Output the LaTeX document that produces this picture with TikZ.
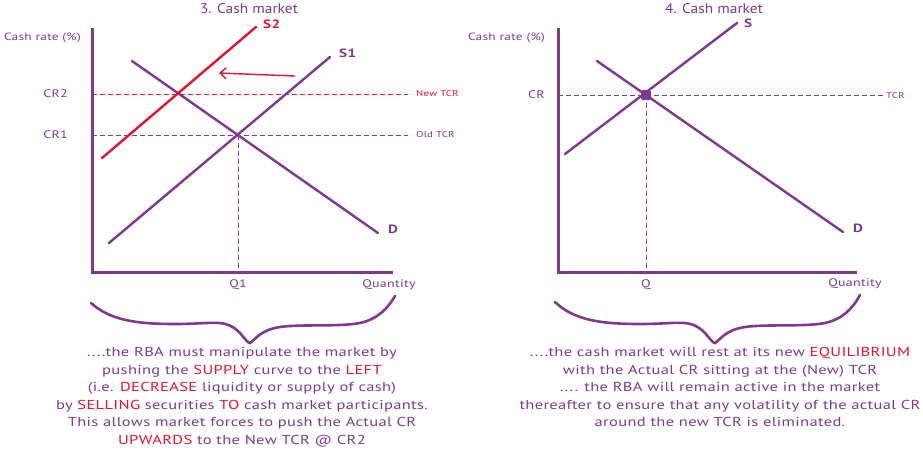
\documentclass[tikz,border=0pt]{standalone}
\usepackage{fontspec}
\setmainfont{PT Sans}[FakeStretch=1.27,LetterSpace=2.5]
\newfontfamily\ttlfont{PT Sans}[FakeStretch=1.1]
\usetikzlibrary{arrows.meta}
\definecolor{pur}{HTML}{7D3A8E}
\definecolor{rd}{HTML}{E6142C}
\newcommand{\R}[1]{\textcolor{rd}{#1}}
\tikzset{
  curve/.style={pur, line width=2.4pt, line cap=round},
  axis/.style={pur, line width=3pt},
  guide/.style={pur, line width=0.9pt, dash pattern=on 5pt off 3pt},
  lbl/.style={pur, font=\fontsize{11}{13}\selectfont, inner sep=0pt},
  small/.style={pur, font=\fontsize{8.5}{10}\selectfont, inner sep=0pt, anchor=west},
  ttl/.style={pur, font=\ttlfont\fontsize{14}{16}\selectfont, inner sep=0pt},
  curvelbl/.style={pur, font=\bfseries\fontsize{12}{14}\selectfont, inner sep=0pt, anchor=west},
  para/.style={pur, font=\fontsize{13}{17.6}\selectfont, align=center, inner sep=0pt, anchor=north},
  brace/.style={pur, line width=2.6pt, line cap=round}
}
\begin{document}
\begin{tikzpicture}[x=1pt,y=-1pt]
\useasboundingbox (0,0) rectangle (923,455);
% ===== left chart =====
\node[ttl] (t1) at (249,9) {3. Cash market};
\coordinate (o1) at (92,272);
\coordinate (ytop1) at (92,28);
\coordinate (xend1) at (393,272);
\node[lbl, anchor=east, font=\fontsize{10.5}{12}\selectfont] (cr1lab) at (81,38) {Cash rate (\%)};
\node[lbl, anchor=east] (cr2) at (68,94) {CR2};
\node[lbl, anchor=east] (cr1) at (68,135) {CR1};
\coordinate (n1a) at (92,94);
\coordinate (n1b) at (408,94);
\coordinate (o1a) at (92,135);
\coordinate (o1b) at (408,135);
\draw[guide, rd] (n1a) -- (n1b);
\draw[guide] (o1a) -- (o1b);
\node[small, rd] (newtcr) at (416,94) {New TCR};
\node[small] (oldtcr) at (416,135) {Old TCR};
\coordinate (e1) at (238,135);
\coordinate (q1b) at (238,272);
\draw[guide] (e1) -- (q1b);
\node[lbl] (q1) at (238,285) {Q1};
\node[lbl] (qty1) at (389,285) {Quantity};
% D
\coordinate (d1a) at (132,61);
\coordinate (d1b) at (378,233);
\draw[curve] (d1a) -- (d1b);
\node[curvelbl] (dl1) at (388,229) {D};
% S1
\coordinate (s1a) at (109,243);
\coordinate (s1b) at (330,57);
\draw[curve] (s1a) -- (s1b);
\node[curvelbl] (s1l) at (339,53) {S1};
% S2
\coordinate (s2a) at (102,158);
\coordinate (s2b) at (256,27);
\draw[curve, rd] (s2a) -- (s2b);
\node[curvelbl, rd] (s2l) at (263,24) {S2};
% arrow
\coordinate (arA) at (295,76);
\coordinate (arB) at (219,73);
\draw[rd, line width=1.4pt, -{Straight Barb[length=6pt,width=11pt]}] (arA) -- (arB);
\draw[axis] (ytop1) -- (o1) -- (xend1);
% brace
\coordinate (b1s) at (91,303);
\coordinate (b1t) at (250,343);
\coordinate (b1e) at (395,296);
\draw[brace] (b1s) .. controls (110,320) and (135,324) .. (175,324)
  .. controls (215,324) and (225,318) .. (240,333)
  .. controls (245,339) and (248,343) .. (b1t)
  .. controls (255,340) and (260,330) .. (280,327)
  .. controls (300,324) and (340,327) .. (360,323)
  .. controls (378,319) and (388,308) .. (b1e);
\node[para] (p1) at (242,347) {....the RBA must manipulate the market by\\
pushing the \R{SUPPLY} curve to the \R{LEFT}\\
(i.e. \R{DECREASE} liquidity or supply of cash)\\
by \R{SELLING} securities \R{TO} cash market participants.\\
This allows market forces to push the Actual CR\\
\R{UPWARDS} to the New TCR @ CR2};
% ===== right chart =====
\node[ttl] (t2) at (714,9) {4. Cash market};
\coordinate (o2) at (558,272);
\coordinate (ytop2) at (558,28);
\coordinate (xend2) at (857,272);
\node[lbl, anchor=east, font=\fontsize{10.5}{12}\selectfont] (cr2lab) at (545,38) {Cash rate (\%)};
\node[lbl, anchor=east] (crl) at (545,95) {CR};
\coordinate (t2a) at (558,95);
\coordinate (t2b) at (883,95);
\draw[guide] (t2a) -- (t2b);
\node[small] (tcr) at (886,96) {TCR};
\coordinate (e2) at (646,95);
\coordinate (q2b) at (646,272);
\draw[guide] (e2) -- (q2b);
\node[lbl] (q2) at (646,285) {Q};
\node[lbl] (qty2) at (855,284) {Quantity};
\coordinate (d2a) at (597,61);
\coordinate (d2b) at (843,232);
\draw[curve] (d2a) -- (d2b);
\node[curvelbl] (dl2) at (853,228) {D};
\coordinate (s2ra) at (565,154);
\coordinate (s2rb) at (737,23);
\draw[curve] (s2ra) -- (s2rb);
\node[curvelbl] (sl2) at (744,23) {S};
\node[fill=pur, rounded corners=2pt, minimum size=10pt, inner sep=0pt] (eq) at (e2) {};
\draw[axis] (ytop2) -- (o2) -- (xend2);
\coordinate (b2s) at (555,302);
\coordinate (b2t) at (715,343);
\coordinate (b2e) at (860,295);
\draw[brace] (b2s) .. controls (574,320) and (600,324) .. (640,324)
  .. controls (680,324) and (690,318) .. (705,333)
  .. controls (710,339) and (713,343) .. (b2t)
  .. controls (720,340) and (725,330) .. (745,327)
  .. controls (765,324) and (805,327) .. (825,323)
  .. controls (843,319) and (853,308) .. (b2e);
\node[para] (p2) at (720,347) {....the cash market will rest at its new \R{EQUILIBRIUM}\\
with the Actual CR sitting at the (New) TCR\\
.... the RBA will remain active in the market\\
thereafter to ensure that any volatility of the actual CR\\
around the new TCR is eliminated.};
\end{tikzpicture}
\end{document}
